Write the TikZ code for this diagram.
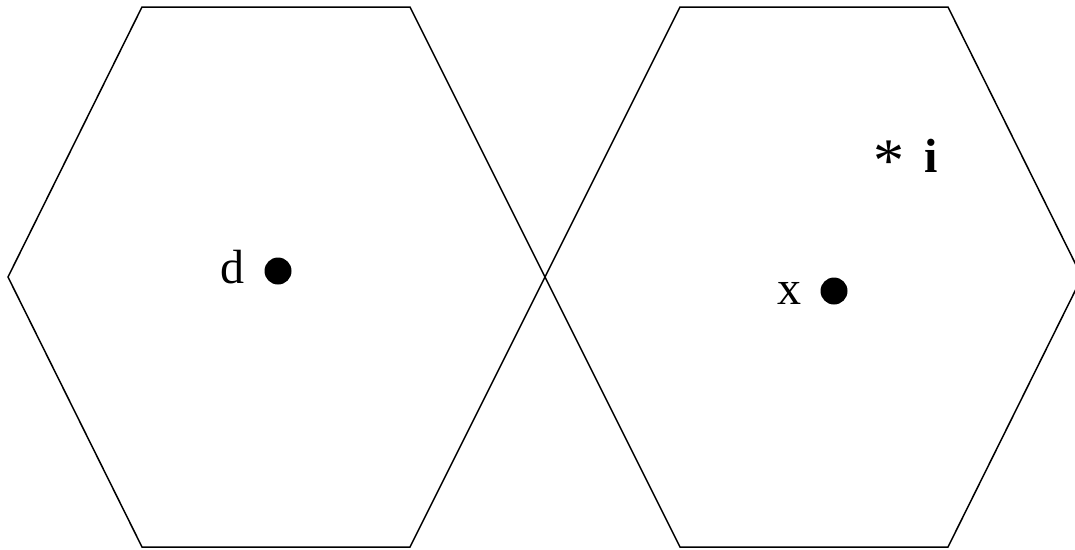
\documentclass[tikz,border=0pt]{standalone}
\usepackage{fontspec}
\setmainfont{Liberation Serif}
\begin{document}
\begin{tikzpicture}[x=1pt,y=-1pt,
  hex/.style={draw=black,line width=1.5pt,line join=miter},
  lbl/.style={inner sep=0pt,anchor=base,font=\fontsize{48}{52}\selectfont},
  blob/.style={circle,fill=black,minimum size=27pt,inner sep=0pt}]
\useasboundingbox (0,0) rectangle (1075,549);
\clip (0,0) rectangle (1075,549);
\draw[hex] (8,277) -- (142,7) -- (410,7) -- (545,277) -- (410,547) -- (142,547) -- cycle;
\draw[hex] (545,277) -- (680,7) -- (948,7) -- (1082,277) -- (948,547) -- (680,547) -- cycle;
\node[lbl] (d) at (232,283) {d};
\node[lbl] (x) at (789,304) {x};
\node[blob] (dd) at (278,271) {};
\node[blob] (xd) at (834,291) {};
\node[lbl,font=\fontsize{62}{66}\selectfont] (ast) at (889,181) {*};
\begin{scope}
\clip (900,120) rectangle (960,171);
\node[lbl] (i) at (931,172) {\bfseries i};
\end{scope}
\end{tikzpicture}
\end{document}
